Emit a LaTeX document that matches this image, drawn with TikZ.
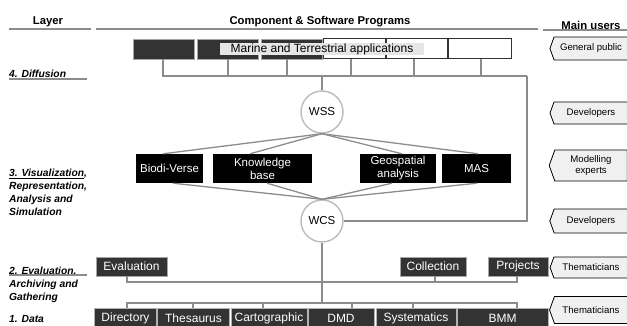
\documentclass[tikz,border=0pt]{standalone}
\usepackage{fontspec}
\setmainfont{Liberation Sans}
\usetikzlibrary{shapes.symbols}
\definecolor{dk}{HTML}{333333}
\definecolor{ln}{HTML}{8C8C8C}
\definecolor{circ}{HTML}{BBBBBB}
\definecolor{usr}{HTML}{F0F0F0}
\definecolor{lbl}{HTML}{E6E6E6}
\begin{document}
\begin{tikzpicture}[x=1pt,y=-1pt,
  conn/.style={draw=ln, line width=1.3pt},
  rule/.style={draw=ln, line width=1.2pt},
  hdr/.style={font=\bfseries\fontsize{11.3}{13}\selectfont, inner sep=0},
  lay/.style={font=\bfseries\itshape\fontsize{10.3}{13}\selectfont, inner sep=0, align=left, anchor=north west},
  topdark/.style={draw=gray!70, line width=0.6pt, fill=dk, minimum height=20pt, inner sep=0},
  topwhite/.style={draw=dk, line width=1pt, fill=white, minimum height=20pt, inner sep=0},
  midbox/.style={fill=black, text=white, font=\fontsize{11.5}{13}\selectfont, align=center, minimum height=29pt, inner sep=0},
  darkbox/.style={fill=dk, draw=gray!70, line width=0.6pt, text=white, font=\fontsize{12}{14}\selectfont, minimum height=19pt, inner sep=0},
  databox/.style={fill=dk, draw=gray!60, line width=0.8pt, text=white, font=\fontsize{12}{14}\selectfont, minimum height=21pt, inner sep=0},
  hub/.style={circle, draw=circ, line width=1.4pt, fill=white, minimum size=42pt, inner sep=0, font=\fontsize{11.5}{13}\selectfont},
  user/.style={signal, signal to=west, signal from=nowhere, signal pointer angle=140, draw=black, line width=0.8pt, fill=usr, font=\fontsize{9.6}{11}\selectfont, align=center, minimum width=78pt, inner sep=0}
]
\useasboundingbox (0,0) rectangle (627,326);

% headers
\node[hdr] (hLayer) at (48,22) {Layer};
\node[hdr] (hComp) at (320,22) {Component \& Software Programs};
\node[hdr] (hUsers) at (591,25) {Main users};
\draw[rule] (9,29) -- (91,29);
\draw[rule] (96,29) -- (538,29);
\draw[rule] (543,30) -- (627,30);

% layer labels
\node[lay] (l4) at (9,70) {4. Diffusion};
\draw[rule] (9,79) -- (87,79);
\node[lay] (l3) at (9,169) {\underline{3. Visualization},\\Representation,\\Analysis and\\Simulation};
\node[lay] (l2) at (9,267) {2. Evaluation,\\Archiving and\\Gathering};
\draw[rule] (9,275) -- (87,275);
\node[lay] (l1) at (9,315) {1. Data};

% top row
\node[topdark, minimum width=61pt] (t1) at (163.5,49) {};
\node[topdark, minimum width=61pt] (t2) at (227.5,49) {};
\node[topdark, minimum width=61pt] (t3) at (291.5,49) {};
\node[topwhite, minimum width=62pt] (t4) at (354,49) {};
\node[topwhite, minimum width=61pt] (t5) at (416.5,49) {};
\node[topwhite, minimum width=63pt] (t6) at (479.5,49) {};
\node[fill=lbl, minimum width=204pt, minimum height=12pt, inner sep=0, font=\fontsize{12}{13}\selectfont] (mta) at (322,49) {Marine and Terrestrial applications};

\coordinate (busA) at (527,76);
\draw[conn] ([xshift=-0.5pt]t1.south) |- (busA);
\foreach \n/\s in {t2/0.5,t3/-4.5,t4/-3,t5/-2.5,t6/1.5}
  \draw[conn] ([xshift=\s pt]\n.south) -- ([xshift=\s pt]\n.south |- busA);

% hubs
\node[hub] (wss) at (322,112) {WSS};
\node[hub] (wcs) at (322,221) {WCS};
\draw[conn] (wss.north) -- (wss.north |- busA);
\draw[conn] (busA) |- (wcs.east);

% middle boxes
\node[midbox, minimum width=67pt] (bv) at (169.5,168.5) {Biodi-Verse};
\node[midbox, minimum width=99pt] (kb) at (262.5,168.5) {Knowledge\\base};
\node[midbox, minimum width=76pt] (geo) at (398,168.5) {Geospatial\\analysis};
\node[midbox, minimum width=69pt] (mas) at (476.5,168.5) {MAS};

\draw[conn] (wss.south) -- ([xshift=-6.5pt]bv.north);
\draw[conn] (wss.south) -- ([xshift=-12.5pt]kb.north);
\draw[conn] (wss.south) -- ([xshift=4pt]geo.north);
\draw[conn] (wss.south) -- ([xshift=1.5pt]mas.north);
\draw[conn] (wcs.north) -- ([xshift=3.5pt]bv.south);
\draw[conn] (wcs.north) -- ([xshift=4.5pt]kb.south);
\draw[conn] (wcs.north) -- ([xshift=-6pt]geo.south);
\draw[conn] (wcs.north) -- ([xshift=0.5pt]mas.south);

% evaluation row
\node[darkbox, minimum width=71pt] (ev) at (131.5,266.5) {Evaluation};
\node[darkbox, minimum width=66pt] (col) at (433,266.5) {Collection};
\node[darkbox, minimum width=60pt] (prj) at (518,266.5) {Projects};
\coordinate (busB) at (517,282);
\draw[conn] ([xshift=-4.5pt]ev.south) |- (busB) -- ([xshift=-1pt]prj.south);
\draw[conn] ([xshift=2pt]col.south) -- ([xshift=2pt]col.south |- busB);

% data row
\node[databox, minimum width=62pt] (dir) at (125.5,318.5) {Directory};
\node[databox, minimum width=72pt] (the) at (193.5,318.5) {Thesaurus};
\node[databox, minimum width=76pt] (car) at (269,318.5) {Cartographic};
\node[databox, minimum width=66pt] (dmd) at (341,318.5) {DMD};
\node[databox, minimum width=80pt] (sys) at (416,318.5) {Systematics};
\node[databox, minimum width=91pt] (bmm) at (502.5,318.5) {BMM};
\coordinate (busC) at (517,303);
\draw[conn] ([xshift=1.5pt]dir.north) |- (busC) -- ([xshift=14.5pt]bmm.north);
\foreach \n/\s in {the/-0.5,car/-6,dmd/11,sys/-3}
  \draw[conn] ([xshift=\s pt]\n.north) -- ([xshift=\s pt]\n.north |- busC);
\draw[conn] (wcs.south) -- (wcs.south |- busC);

% users
\node[user, minimum height=23pt] (u1) at (591,48.5) {General public};
\node[user, minimum height=22pt] (u2) at (591,113) {Developers};
\node[user, minimum height=31pt] (u3) at (591,165.5) {Modelling\\experts};
\node[user, minimum height=24pt] (u4) at (591,221) {Developers};
\node[user, minimum height=21pt] (u5) at (591,267.5) {Thematicians};
\node[user, minimum height=27pt] (u6) at (591,310) {Thematicians};
\end{tikzpicture}
\end{document}
